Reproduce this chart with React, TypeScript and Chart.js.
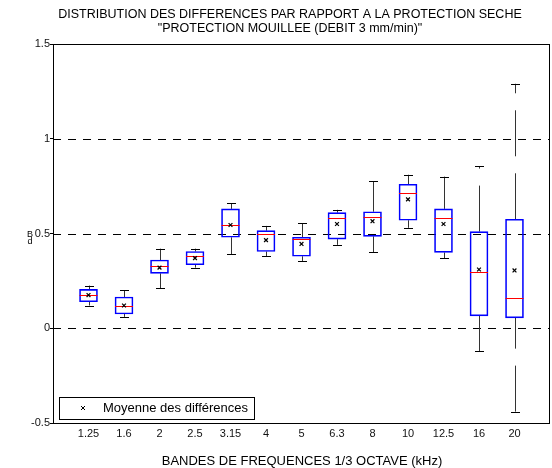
import React, { useEffect, useRef } from 'react';
import { Chart, registerables } from 'chart.js';

Chart.register(...registerables);

const categories = ['1.25', '1.6', '2', '2.5', '3.15', '4', '5', '6.3', '8', '10', '12.5', '16', '20'];
const mins = [0.12, 0.06, 0.21, 0.32, 0.39, 0.38, 0.355, 0.44, 0.4, 0.53, 0.37, -0.12, -0.44];
const q1s = [0.14, 0.075, 0.29, 0.335, 0.48, 0.405, 0.38, 0.47, 0.485, 0.57, 0.4, 0.065, 0.055];
const medians = [0.175, 0.12, 0.33, 0.38, 0.545, 0.495, 0.47, 0.58, 0.585, 0.715, 0.58, 0.295, 0.16];
const q3s = [0.205, 0.165, 0.36, 0.405, 0.63, 0.515, 0.48, 0.61, 0.615, 0.76, 0.63, 0.51, 0.575];
const maxs = [0.225, 0.2, 0.42, 0.42, 0.66, 0.54, 0.555, 0.625, 0.775, 0.81, 0.8, 0.855, 1.29];
const means = [0.175, 0.12, 0.32, 0.37, 0.545, 0.465, 0.445, 0.55, 0.565, 0.68, 0.55, 0.31, 0.305];
const gridValues = [0, 0.5, 1];

const titleLines = [
  'DISTRIBUTION DES DIFFERENCES PAR RAPPORT A LA PROTECTION SECHE',
  '"PROTECTION MOUILLEE (DEBIT 3 mm/min)"',
];
const xTitle = 'BANDES DE FREQUENCES 1/3 OCTAVE (kHz)';
const legendLabel = 'Moyenne des différences';
const FONT = '"Liberation Sans", Arial, sans-serif';

const boxPlugin = {
  id: 'boxDecor',
  beforeDatasetsDraw(chart: any) {
    const { ctx, chartArea: a, scales } = chart;
    const x = scales.x;
    const y = scales.y;
    ctx.save();
    ctx.strokeStyle = '#000';
    ctx.lineWidth = 1;
    ctx.setLineDash([8, 7]);
    gridValues.forEach((v) => {
      const py = Math.round(y.getPixelForValue(v)) + 0.5;
      ctx.beginPath();
      ctx.moveTo(a.left, py);
      ctx.lineTo(a.right, py);
      ctx.stroke();
    });
    ctx.strokeStyle = '#333';
    ctx.setLineDash([46, 17]);
    categories.forEach((_, i) => {
      const px = Math.round(x.getPixelForValue(i + 1)) + 0.5;
      ctx.beginPath();
      ctx.moveTo(px, y.getPixelForValue(q3s[i]));
      ctx.lineTo(px, y.getPixelForValue(maxs[i]));
      ctx.stroke();
      ctx.beginPath();
      ctx.moveTo(px, y.getPixelForValue(mins[i]));
      ctx.lineTo(px, y.getPixelForValue(q1s[i]));
      ctx.stroke();
    });
    ctx.setLineDash([]);
    ctx.strokeStyle = '#000';
    categories.forEach((_, i) => {
      const px = Math.round(x.getPixelForValue(i + 1)) + 0.5;
      [mins[i], maxs[i]].forEach((v) => {
        const py = Math.round(y.getPixelForValue(v)) + 0.5;
        ctx.beginPath();
        ctx.moveTo(px - 4.5, py);
        ctx.lineTo(px + 4.5, py);
        ctx.stroke();
      });
    });
    ctx.restore();
  },
  afterDatasetDraw(chart: any, args: any) {
    if (args.index !== 0) return;
    const { ctx, scales } = chart;
    const x = scales.x;
    const y = scales.y;
    ctx.save();
    ctx.strokeStyle = '#ff0000';
    ctx.lineWidth = 1;
    categories.forEach((_, i) => {
      const px = x.getPixelForValue(i + 1);
      const py = Math.round(y.getPixelForValue(medians[i])) + 0.5;
      ctx.beginPath();
      ctx.moveTo(px - 9, py);
      ctx.lineTo(px + 9, py);
      ctx.stroke();
    });
    ctx.restore();
  },
  afterDraw(chart: any) {
    const { ctx, chartArea: a } = chart;
    ctx.save();
    ctx.strokeStyle = '#000';
    ctx.lineWidth = 1;
    ctx.strokeRect(Math.round(a.left) + 0.5, Math.round(a.top) + 0.5, Math.round(a.right - a.left) - 1, Math.round(a.bottom - a.top));
    ctx.fillStyle = '#000';
    ctx.textAlign = 'center';
    ctx.textBaseline = 'middle';
    ctx.font = `12.5px ${FONT}`;
    ctx.fillText(titleLines[0], 290, 15);
    ctx.fillText(titleLines[1], 290, 29);
    ctx.font = `13px ${FONT}`;
    ctx.fillText(xTitle, 302, 461);
    ctx.font = `9px ${FONT}`;
    ctx.fillText('B', 30, 235);
    ctx.fillText('d', 30, 242);
    ctx.fillStyle = '#fff';
    ctx.fillRect(59.5, 397.5, 195, 22);
    ctx.strokeRect(59.5, 397.5, 195, 22);
    ctx.strokeStyle = '#000';
    ctx.beginPath();
    ctx.moveTo(81, 406);
    ctx.lineTo(85, 410);
    ctx.moveTo(85, 406);
    ctx.lineTo(81, 410);
    ctx.stroke();
    ctx.fillStyle = '#000';
    ctx.textAlign = 'left';
    ctx.font = `13px ${FONT}`;
    ctx.fillText(legendLabel, 103, 408.5);
    ctx.restore();
  },
};

export default function App() {
  const ref = useRef<HTMLCanvasElement | null>(null);
  useEffect(() => {
    if (!ref.current) return;
    const chart = new Chart(ref.current, {
      type: 'bar',
      data: {
        datasets: [
          {
            type: 'bar',
            order: 1,
            data: categories.map((_, i) => ({ x: i + 1, y: [q1s[i], q3s[i]] })) as any,
            backgroundColor: 'rgba(0,0,0,0)',
            borderColor: '#0000ff',
            borderWidth: 1,
            borderSkipped: false,
            barThickness: 18,
          } as any,
          {
            type: 'scatter',
            order: 0,
            data: categories.map((_, i) => ({ x: i + 1, y: means[i] })),
            pointStyle: 'crossRot',
            radius: 2.7,
            hoverRadius: 2.7,
            borderColor: '#000',
            borderWidth: 1.2,
            showLine: false,
          } as any,
        ],
      },
      options: {
        animation: false,
        responsive: false,
        events: [],
        layout: { autoPadding: false, padding: { top: 44, right: 2, left: 0, bottom: 0 } },
        plugins: { legend: { display: false }, tooltip: { enabled: false }, title: { display: false } },
        scales: {
          x: {
            type: 'linear',
            min: 0,
            max: 14,
            offset: false,
            afterBuildTicks: (scale: any) => {
              scale.ticks = categories.map((_, i) => ({ value: i + 1 }));
            },
            afterFit: (scale: any) => {
              scale.height = 45;
              scale.paddingLeft = 0;
              scale.paddingRight = 0;
            },
            ticks: {
              autoSkip: false,
              maxRotation: 0,
              padding: 4,
              color: '#111',
              font: { size: 11, family: FONT },
              callback: (v: any) => categories[Number(v) - 1] ?? '',
            },
            grid: { display: false, drawTicks: false },
            border: { display: false },
          },
          y: {
            type: 'linear',
            min: -0.5,
            max: 1.5,
            afterFit: (scale: any) => {
              scale.width = 53;
            },
            ticks: {
              stepSize: 0.5,
              padding: 0,
              color: '#111',
              font: { size: 11, family: FONT },
              callback: (v: any) => String(Number(v)),
            },
            grid: { drawOnChartArea: false, drawTicks: true, tickLength: 3, tickColor: '#000', color: '#000' },
            border: { display: false },
          },
        },
      },
      plugins: [boxPlugin],
    } as any);
    return () => chart.destroy();
  }, []);
  return (
    <div style={{ position: 'absolute', left: 0, top: 0, width: 552, height: 468, background: '#fff' }}>
      <canvas ref={ref} width={552} height={468} style={{ display: 'block' }} />
    </div>
  );
}
